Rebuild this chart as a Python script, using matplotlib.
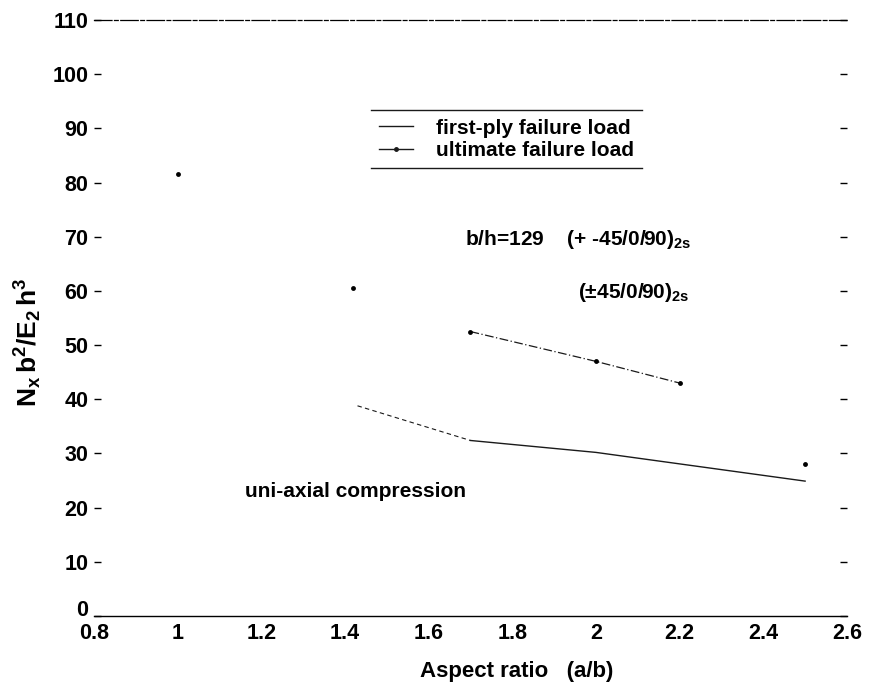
import matplotlib
matplotlib.use("Agg")
import matplotlib.pyplot as plt
from matplotlib.lines import Line2D

plt.rcParams['font.family'] = ['Liberation Sans', 'DejaVu Sans']
plt.rcParams['font.weight'] = 'bold'
plt.rcParams['axes.labelweight'] = 'bold'
plt.rcParams['mathtext.fontset'] = 'custom'
plt.rcParams['mathtext.rm'] = 'Liberation Sans:bold'
plt.rcParams['mathtext.it'] = 'Liberation Sans:bold'
plt.rcParams['mathtext.bf'] = 'Liberation Sans:bold'
plt.rcParams['mathtext.default'] = 'bf'

# Aspect ratio (a/b) and normalised buckling/failure loads, b/h = 129
ult_x = [1.0, 1.42, 1.7, 2.0, 2.2, 2.5]
ult_y = [81.5, 60.5, 52.5, 47.0, 43.0, 28.0]

fp_x = [1.43, 1.7, 2.0, 2.5]
fp_y = [38.8, 32.4, 30.2, 24.9]

x_ticks = [0.8, 1.0, 1.2, 1.4, 1.6, 1.8, 2.0, 2.2, 2.4, 2.6]
x_tick_labels = ['0.8', '1', '1.2', '1.4', '1.6', '1.8', '2', '2.2', '2.4', '2.6']
y_ticks = list(range(0, 111, 10))

fig = plt.figure(figsize=(8.7, 6.86), dpi=100)
ax = fig.add_axes([0.108, 0.102, 0.8655, 0.8688])

ink = '0.1'

# first-ply failure: faint dashed start, solid afterwards
ax.plot(fp_x[:2], fp_y[:2], color=ink, lw=0.8, ls=(0, (4, 3)))
ax.plot(fp_x[1:], fp_y[1:], color=ink, lw=1.0, ls='-')

# ultimate failure: points, with the connected middle run
ax.plot(ult_x[2:5], ult_y[2:5], color=ink, lw=0.9, ls=(0, (7, 2, 1, 2)))
ax.plot(ult_x, ult_y, ls='none', marker='o', ms=3.5, color='black',
        markeredgewidth=0)

ax.set_xlim(0.8, 2.6)
ax.set_ylim(0, 110)
ax.set_xticks(x_ticks)
ax.set_xticklabels(x_tick_labels)
ax.set_yticks(y_ticks)

ax.spines['left'].set_visible(False)
ax.spines['right'].set_visible(False)
ax.spines['top'].set_linewidth(0.9)
ax.spines['bottom'].set_linewidth(1.0)
ax.spines['top'].set_linestyle((0, (14, 2, 3, 2)))

ax.tick_params(axis='x', length=0, pad=5, labelsize=15.5)
ax.tick_params(axis='y', which='both', direction='in', length=5, width=1,
               left=True, right=True, pad=4, labelsize=15.5)

# the zero label sits just above the 0.8 label
ax.get_yticklabels()[0].set_verticalalignment('baseline')

ax.set_xlabel('Aspect ratio   (a/b)', fontsize=16)
ax.xaxis.set_label_coords(0.562, -0.075)
ax.set_ylabel(r'$N_x\,b^2/E_2\,h^3$', fontsize=19)
ax.yaxis.set_label_coords(-0.066, 0.46)

handles = [
    Line2D([], [], color=ink, lw=1.0, ls='-'),
    Line2D([], [], color=ink, lw=1.0, ls='-', marker='o', ms=2.5),
]
leg = ax.legend(handles, ['first-ply failure load', 'ultimate failure load'],
                loc='center', bbox_to_anchor=(0.548, 0.80), frameon=False,
                fontsize=15, handlelength=1.6, handletextpad=1.1,
                labelspacing=0.15, numpoints=1)

ax.text(1.687, 69.5, r'b/h=129    (+ -45/0/90)$_{2s}$',
        fontsize=15, va='center', ha='left')
ax.text(1.957, 59.8, r'($\pm$45/0/90)$_{2s}$',
        fontsize=15, va='center', ha='left')
ax.text(1.16, 23.0, 'uni-axial compression', fontsize=15,
        va='center', ha='left')

# rules above and below the legend entries
fig.canvas.draw()
bb = leg.get_window_extent().transformed(fig.transFigure.inverted())
for yy in (bb.y1, bb.y0):
    fig.add_artist(Line2D([bb.x0, bb.x1], [yy, yy], transform=fig.transFigure,
                          color=ink, lw=1.0))

fig.savefig('out.png', dpi=100, facecolor='white')
